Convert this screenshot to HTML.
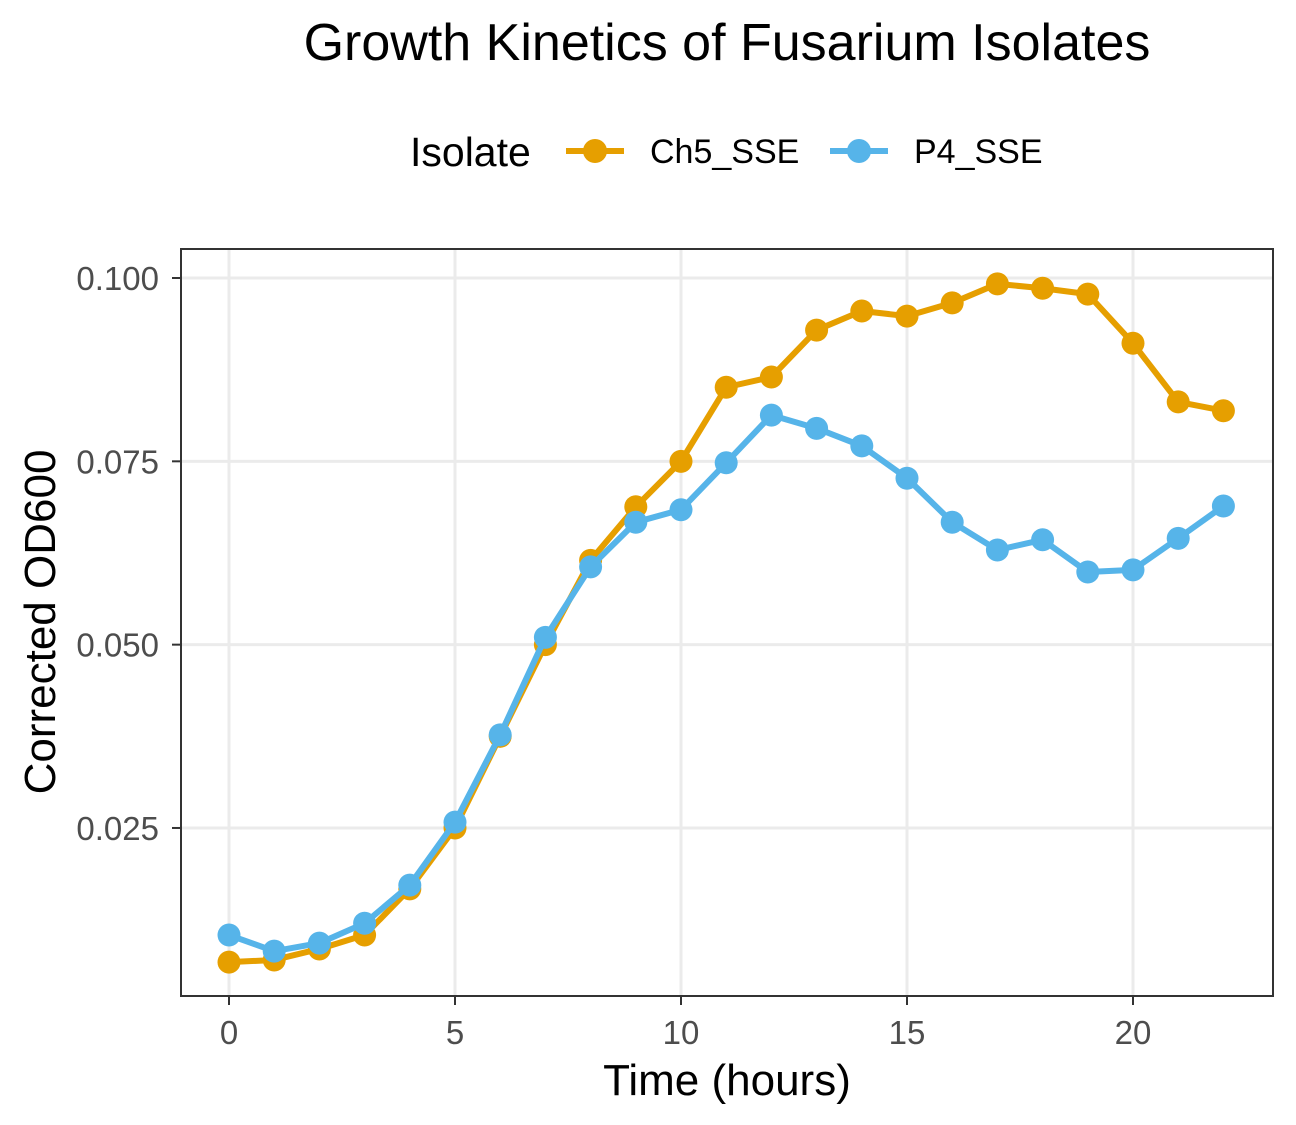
<!DOCTYPE html>
<html><head><meta charset="utf-8"><style>
html,body{margin:0;padding:0;background:#fff;}
svg{display:block;font-family:"Liberation Sans",Arial,sans-serif;}
</style></head><body>
<svg id="chart" width="1296" height="1125">
<text x="727" y="60" font-size="52" text-anchor="middle" fill="#000">Growth Kinetics of Fusarium Isolates</text>
<g>
<text x="410" y="166" font-size="41" fill="#000">Isolate</text>
<g>
<line x1="566" y1="151" x2="624" y2="151" stroke="#E69F00" stroke-width="6"/>
<circle cx="595" cy="151" r="12" fill="#E69F00"/>
<text x="650" y="163" font-size="34" fill="#000">Ch5_SSE</text>
</g>
<g>
<line x1="830" y1="151" x2="888" y2="151" stroke="#56B4E9" stroke-width="6"/>
<circle cx="859" cy="151" r="12" fill="#56B4E9"/>
<text x="914" y="163" font-size="34" fill="#000">P4_SSE</text>
</g>
</g>
<g id="grid"></g>
<g id="series"></g>
<rect x="181" y="249" width="1092" height="747" fill="none" stroke="#333" stroke-width="2"/>
<g id="axes"></g>
<text x="727" y="1095" font-size="44" text-anchor="middle" fill="#000">Time (hours)</text>
<text transform="translate(55,622) rotate(-90)" font-size="44" text-anchor="middle" fill="#000">Corrected OD600</text>
</svg>
<script>
const hours=[0,1,2,3,4,5,6,7,8,9,10,11,12,13,14,15,16,17,18,19,20,21,22];
const ch5=[0.0067,0.0070,0.0085,0.0104,0.0167,0.0250,0.0375,0.0500,0.0615,0.0688,0.0750,0.0851,0.0865,0.0929,0.0955,0.0948,0.0966,0.0992,0.0986,0.0978,0.0911,0.0831,0.0819];
const p4=[0.0104,0.0082,0.0093,0.0120,0.0172,0.0258,0.0377,0.0510,0.0606,0.0667,0.0684,0.0748,0.0813,0.0795,0.0771,0.0727,0.0667,0.0629,0.0643,0.0599,0.0602,0.0645,0.0689];
const xTicks=[0,5,10,15,20];
const yTicks=[0.025,0.050,0.075,0.100];
const yTickLabels=["0.025","0.050","0.075","0.100"];
const NS="http://www.w3.org/2000/svg";
function xs(v){return 229+v*45.2;}
function ys(v){return 278-(v-0.1)*7333;}
function mk(tag,attrs,parent){const e=document.createElementNS(NS,tag);for(const k in attrs)e.setAttribute(k,attrs[k]);parent.appendChild(e);return e;}
const grid=document.getElementById('grid'),axes=document.getElementById('axes'),series=document.getElementById('series');
xTicks.forEach(t=>{const x=xs(t);
const g=mk('line',{x1:x,x2:x,y1:249,y2:996,stroke:'#ebebeb','stroke-width':3},grid);
const tk=mk('line',{x1:x,x2:x,y1:996,y2:1005,stroke:'#333','stroke-width':2},axes);
const tx=mk('text',{x:x,y:1044,'font-size':33,'text-anchor':'middle',fill:'#4d4d4d'},axes);tx.textContent=t;});
yTicks.forEach((t,i)=>{const y=ys(t);
const g=mk('line',{x1:181,x2:1273,y1:y,y2:y,stroke:'#ebebeb','stroke-width':3},grid);
const tk=mk('line',{x1:172,x2:181,y1:y,y2:y,stroke:'#333','stroke-width':2},axes);
const tx=mk('text',{x:159,y:y+12,'font-size':33,'text-anchor':'end',fill:'#4d4d4d'},axes);tx.textContent=yTickLabels[i];});
function draw(vals,color,name){
const pts=hours.map((h,i)=>xs(h)+','+ys(vals[i])).join(' ');
const pl=mk('polyline',{points:pts,fill:'none',stroke:color,'stroke-width':6,'stroke-linejoin':'round'},series);


hours.forEach((h,i)=>{const c=mk('circle',{cx:xs(h),cy:ys(vals[i]),r:11.5,fill:color},series);

});}
draw(ch5,'#E69F00','ch5-sse');
draw(p4,'#56B4E9','p4-sse');
</script>
</body></html>
